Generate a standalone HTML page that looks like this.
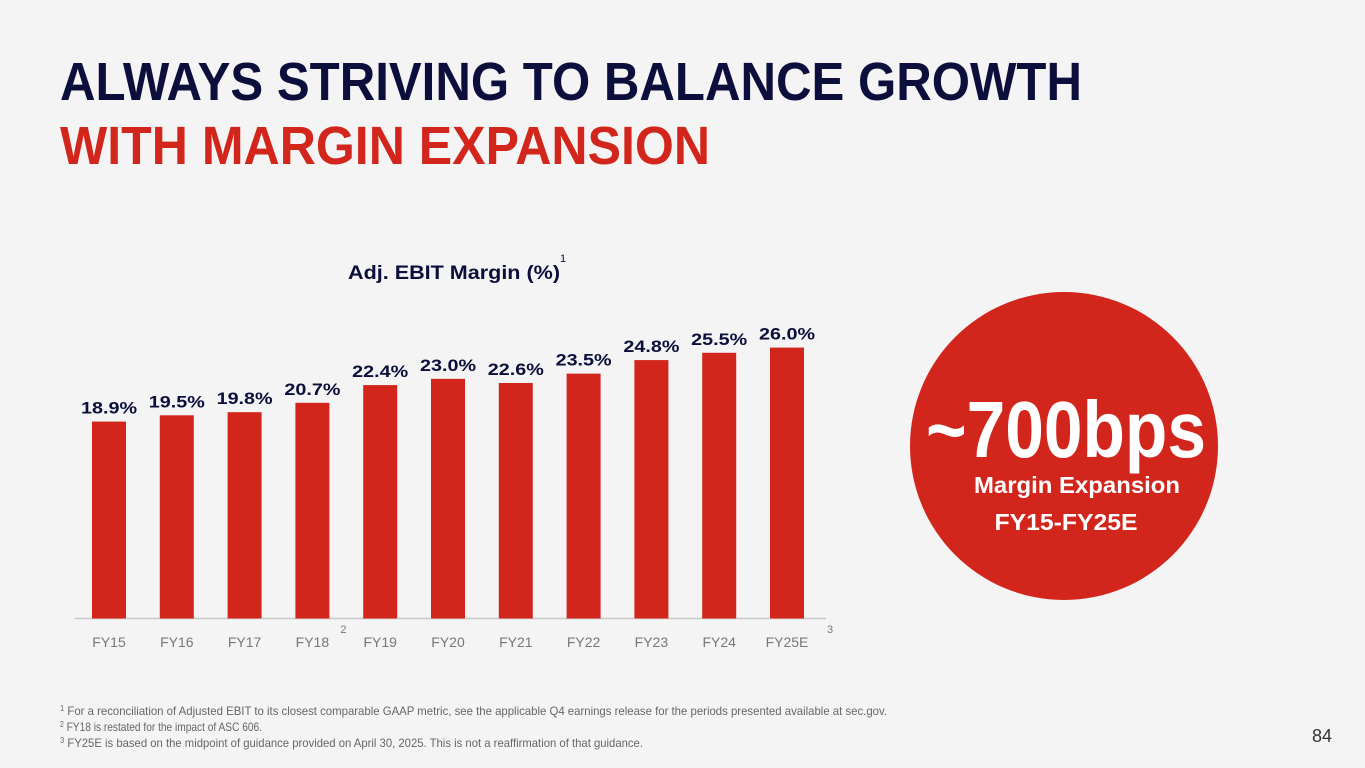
<!DOCTYPE html>
<html><head><meta charset="utf-8"><style>
body{margin:0;background:#f3f4f3;}
svg{display:block;font-family:"Liberation Sans",sans-serif;}
</style></head><body>
<svg width="1365" height="768" viewBox="0 0 1365 768">
<rect width="1365" height="768" fill="#f3f4f3"/>
<text x="60" y="100" font-size="54" font-weight="bold" fill="#0c0f3b" textLength="1022" lengthAdjust="spacingAndGlyphs">ALWAYS STRIVING TO BALANCE GROWTH</text>
<text x="60" y="164" font-size="54" font-weight="bold" fill="#d2261d" textLength="650" lengthAdjust="spacingAndGlyphs">WITH MARGIN EXPANSION</text>
<text x="348" y="279" font-size="19" font-weight="bold" fill="#0c0f3b" textLength="212" lengthAdjust="spacingAndGlyphs">Adj. EBIT Margin (%)</text>
<text x="560" y="262" font-size="11" fill="#0c0f3b">1</text>
<g id="chart"></g>
<circle cx="1064" cy="446" r="154" fill="#d2261d"/>
<text x="1066" y="457" font-size="80" font-weight="bold" fill="#fff" text-anchor="middle" textLength="280" lengthAdjust="spacingAndGlyphs">~700bps</text>
<text x="1077" y="493" font-size="23" font-weight="bold" fill="#fff" text-anchor="middle" textLength="206" lengthAdjust="spacingAndGlyphs">Margin Expansion</text>
<text x="1066" y="530" font-size="23" font-weight="bold" fill="#fff" text-anchor="middle" textLength="143" lengthAdjust="spacingAndGlyphs">FY15-FY25E</text>
<g font-size="12" fill="#666">
<text x="60" y="715" textLength="827" lengthAdjust="spacingAndGlyphs"><tspan font-size="8" dy="-4">1</tspan><tspan dy="4"> For a reconciliation of Adjusted EBIT to its closest comparable GAAP metric, see the applicable Q4 earnings release for the periods presented available at sec.gov.</tspan></text>
<text x="60" y="731" textLength="202" lengthAdjust="spacingAndGlyphs"><tspan font-size="8" dy="-4">2</tspan><tspan dy="4"> FY18 is restated for the impact of ASC 606.</tspan></text>
<text x="60" y="747" textLength="583" lengthAdjust="spacingAndGlyphs"><tspan font-size="8" dy="-4">3</tspan><tspan dy="4"> FY25E is based on the midpoint of guidance provided on April 30, 2025. This is not a reaffirmation of that guidance.</tspan></text>
</g>
<text x="1332" y="742" font-size="18" fill="#333" text-anchor="end">84</text>
</svg>
<script>
const categories=["FY15","FY16","FY17","FY18","FY19","FY20","FY21","FY22","FY23","FY24","FY25E"];
const values=[18.9,19.5,19.8,20.7,22.4,23.0,22.6,23.5,24.8,25.5,26.0];
const valueLabels=["18.9%","19.5%","19.8%","20.7%","22.4%","23.0%","22.6%","23.5%","24.8%","25.5%","26.0%"];
const footnoteMarks={"FY18":"2","FY25E":"3"};
const NS="http://www.w3.org/2000/svg";
const g=document.getElementById('chart');
const base=618.5, pxPer=10.42, x0=109, step=67.8, bw=34;
const xs=i=>x0+i*step;
const ys=v=>base-v*pxPer;
function mk(t,a){const e=document.createElementNS(NS,t);for(const k in a)e.setAttribute(k,a[k]);g.appendChild(e);return e;}
const ax=mk('line',{x1:75,x2:826,y1:base,y2:base,stroke:'#c8c8c8','stroke-width':1.5});


categories.forEach((c,i)=>{
  const v=values[i];
  const r=mk('rect',{x:xs(i)-bw/2,y:ys(v),width:bw,height:base-ys(v),fill:'#d2261d'});
  
  
  const t=mk('text',{x:xs(i),y:ys(v)-8,'text-anchor':'middle','font-size':17,'font-weight':'bold',fill:'#0c0f3b',textLength:56,lengthAdjust:'spacingAndGlyphs'});
  t.textContent=valueLabels[i];
  
  
  const l=mk('text',{x:xs(i),y:647,'text-anchor':'middle','font-size':14,fill:'#777'});
  l.textContent=c;
  
  
  if(footnoteMarks[c]){
    const f=mk('text',{x:xs(i)+(c==='FY25E'?40:28),y:633,'font-size':11,fill:'#777'});
    f.textContent=footnoteMarks[c];
    
    
  }
});
</script>
</body></html>
